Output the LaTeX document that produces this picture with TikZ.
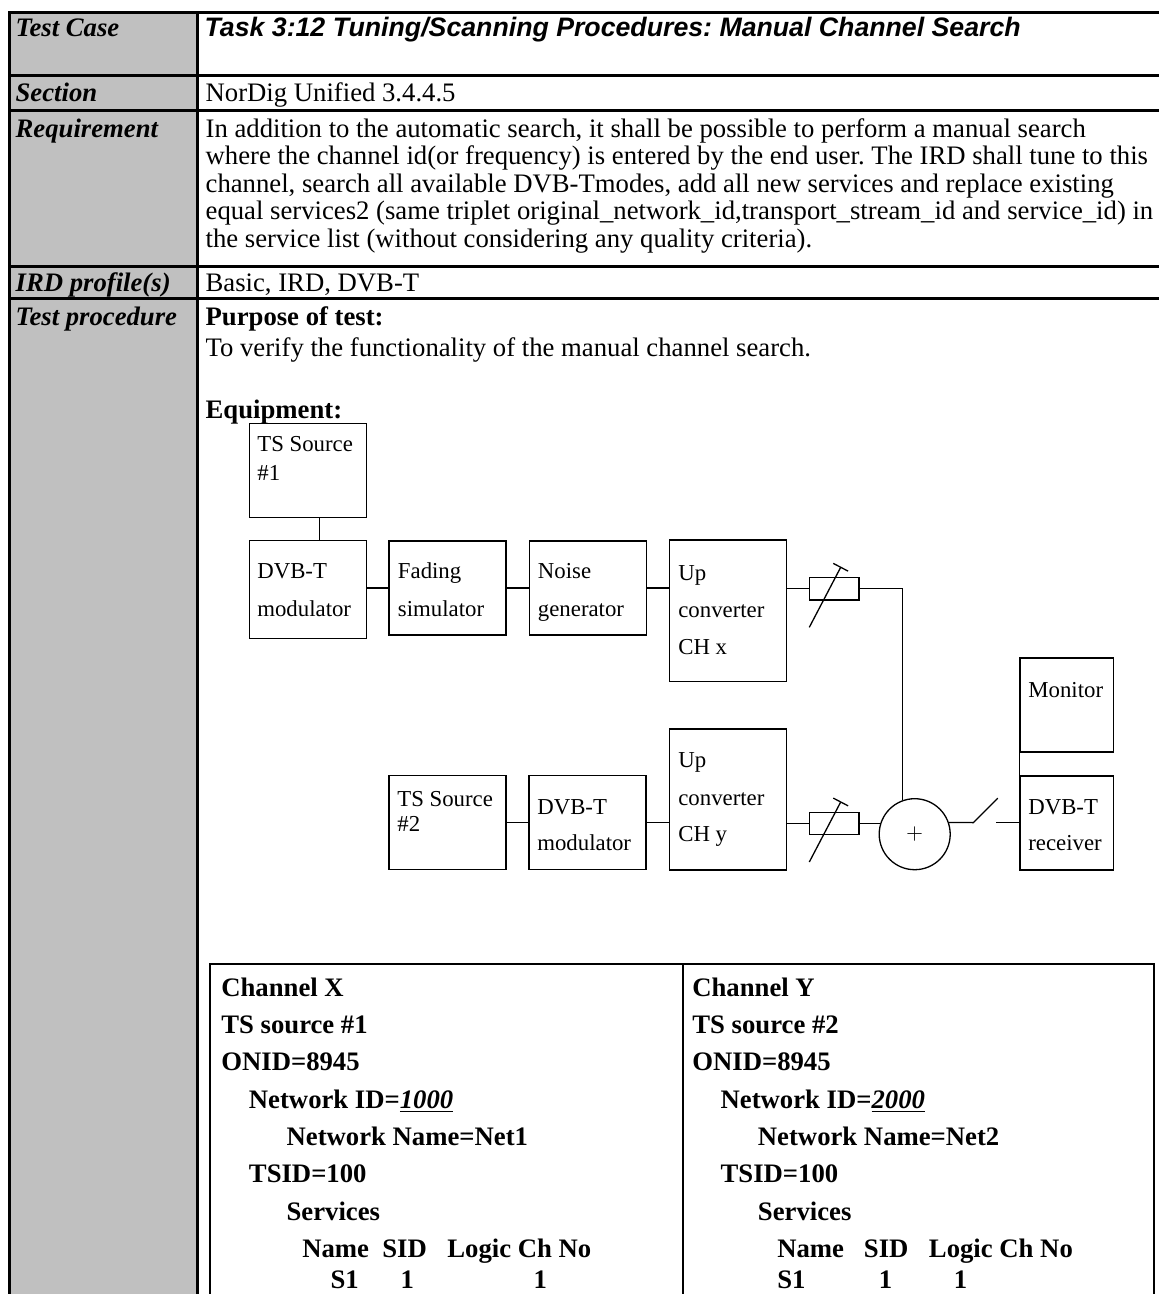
\documentclass[tikz,border=0pt]{standalone}
\usepackage{fontspec}
\setmainfont{Liberation Serif}
\newfontfamily\arialfont{Liberation Sans}
\usepackage{tikz}
\usetikzlibrary{arrows.meta}
\frenchspacing
\definecolor{cellgray}{HTML}{C0C0C0}
\newcommand{\txtsize}{\fontsize{13.35}{14}\selectfont}
\newcommand{\boxsize}{\fontsize{11.4}{12}\selectfont}
\tikzset{
	blk/.style     = {draw, rectangle, inner sep=0pt, minimum width=58.5pt,
		minimum height=47pt},
	atten/.style   = {draw, rectangle, inner sep=0pt, minimum width=24.85pt,
		minimum height=11.15pt},
	sum/.style     = {draw, circle, inner sep=0pt, minimum size=35.5pt, font=\boxsize},
	varr/.style    = {-{Bar[width=8.4pt]}},
	boxtxt/.style  = {anchor=base west, inner sep=0pt, font=\boxsize},
	txt/.style     = {anchor=base west, inner sep=0pt, font=\txtsize},
	head/.style    = {txt, font=\txtsize\bfseries\itshape},
	ent/.style     = {txt, font=\txtsize\bfseries},
	tabline/.style = {line width=1.5pt},
	lowline/.style = {line width=1pt}
}

\begin{document}
\begin{tikzpicture}[x=0.5pt, y=-0.5pt, line width=0.65pt]
	\useasboundingbox (0,0) rectangle (1159,1294);
	
	% the test case table
	\fill[cellgray] (9.5,12.5) rectangle (197.5,1294);
	\draw[tabline] (8,12.5) -- (1159,12.5);
	\draw[tabline] (8,76) -- (1159,76);
	\draw[tabline] (8,110.5) -- (1159,110.5);
	\draw[tabline] (8,266.3) -- (1159,266.3);
	\draw[tabline] (8,298.7) -- (1159,298.7);
	\draw[tabline] (9.5,11.75) -- (9.5,1294);
	\draw[tabline] (197.5,11.75) -- (197.5,1294);
	
	\node[head] at (15,37) {Test Case};
	\node[head] at (15,102) {Section};
	\node[head] at (15,137.5) {Requirement};
	\node[head] at (15,291.5) {IRD profile(s)};
	\node[head] at (15,325.5) {Test procedure};
	
	\node[txt, font=\txtsize\arialfont\bfseries\itshape] at (204,37)
		{Task 3:12 Tuning/Scanning Procedures: Manual Channel Search};
	\node[txt] at (205,102) {NorDig Unified 3.4.4.5};
	\node[txt] at (205,137.5) {In addition to the automatic search, it shall be possible to perform a manual search};
	\node[txt] at (205,165) {where the channel id(or frequency) is entered by the end user. The IRD shall tune to this};
	\node[txt] at (205,192.5) {channel, search all available DVB-Tmodes, add all new services and replace existing};
	\node[txt] at (205,220) {equal services2 (same triplet original\textunderscore network\textunderscore id,transport\textunderscore stream\textunderscore id and service\textunderscore id) in};
	\node[txt] at (205,247.5) {the service list (without considering any quality criteria).};
	\node[txt] at (205,291.5) {Basic, IRD, DVB-T};
	\node[ent] at (205,325.5) {Purpose of test:};
	\node[txt] at (205,356.5) {To verify the functionality of the manual channel search.};
	\node[ent] at (205,418.5) {Equipment:};
	
	% Drawing the equipment blocks
	\draw
	node at (307.7,470.3) [blk] (ts1) {}
	node at (307.7,589.7) [blk, minimum height=49pt] (moda) {}
	node at (447.4,587.9) [blk] (fade) {}
	node at (587.7,587.9) [blk] (noise) {}
	node at (728,610.9) [blk, minimum height=70.85pt] (upx) {}
	node at (834.2,588.8) [atten] (attx) {}
	node at (1066.9,704.9) [blk, minimum width=46.85pt] (mon) {}
	node at (447.5,822.5) [blk] (ts2) {}
	node at (587.5,822.5) [blk] (modb) {}
	node at (728,799.5) [blk, minimum height=70.5pt] (upy) {}
	node at (834.2,823.5) [atten] (atty) {}
	node at (914.7,834.2) [sum] (add) {$+$}
	node at (1066.9,822.9) [blk, minimum width=46.85pt] (rx) {};
	
	\coordinate (swa) at (973.3,822.6);
	\coordinate (swb) at (996,822.6);
	
	\draw ([xshift=5.8pt]ts1.south) -- ([xshift=5.8pt]moda.north);
	\draw (fade.west -| moda.east) -- (fade.west);
	\draw (fade.east) -- (noise.west);
	\draw (noise.east) -- (noise.east -| upx.west);
	\draw (attx.west -| upx.east) -- (attx.west);
	\draw (attx.east) -| (add.110);
	\draw[varr] ([shift={(-24.9,38.5)}]attx.center) -- ([shift={(6.8,-22.1)}]attx.center);
	\draw (ts2.east) -- (modb.west);
	\draw (modb.east) -- (modb.east -| upy.west);
	\draw (atty.west -| upy.east) -- (atty.west);
	\draw (atty.east) -- (atty.east -| add.161);
	\draw[varr] ([shift={(-24.9,38.5)}]atty.center) -- ([shift={(6.8,-22.1)}]atty.center);
	\draw (add.19) -- (swa) -- ++(24.4,-24.4);
	\draw (swb) -- (swb -| rx.west);
	\draw (mon.south west) -- (rx.north west);
	
	\node[boxtxt] at (256.7,451.7) {TS Source};
	\node[boxtxt] at (256.7,480) {\#1};
	\node[boxtxt] at (256.7,578.3) {DVB-T};
	\node[boxtxt] at (256.7,616.7) {modulator};
	\node[boxtxt] at (397.3,578.5) {Fading};
	\node[boxtxt] at (397.3,616.7) {simulator};
	\node[boxtxt] at (537.3,578.5) {Noise};
	\node[boxtxt] at (537.3,616.7) {generator};
	\node[boxtxt] at (677.7,580) {Up};
	\node[boxtxt] at (677.7,617.3) {converter};
	\node[boxtxt] at (677.7,654) {CH x};
	\node[boxtxt] at (1027.7,697.3) {Monitor};
	\node[boxtxt] at (396.7,806) {TS Source};
	\node[boxtxt] at (396.7,831.7) {\#2};
	\node[boxtxt] at (536.7,814) {DVB-T};
	\node[boxtxt] at (536.7,850.7) {modulator};
	\node[boxtxt] at (677.7,767.3) {Up};
	\node[boxtxt] at (677.7,805) {converter};
	\node[boxtxt] at (677.7,841.7) {CH y};
	\node[boxtxt] at (1027.7,814) {DVB-T};
	\node[boxtxt] at (1027.7,850.7) {receiver};
	
	% channel table
	\draw[lowline] (210,1294) -- (210,963.5) -- (1153.5,963.5) -- (1153.5,1294);
	\draw[lowline] (682.5,963.5) -- (682.5,1294);
	
	\node[ent] at (220.7,996.3) {Channel X};
	\node[ent] at (220.7,1033.6) {TS source \#1};
	\node[ent] at (220.7,1070.9) {ONID=8945};
	\node[ent] at (248.3,1108.2) {Network ID=\underline{\itshape 1000}};
	\node[ent] at (286,1145.5) {Network Name=Net1};
	\node[ent] at (248.3,1182.8) {TSID=100};
	\node[ent] at (286,1220.1) {Services};
	\node[ent] at (301.7,1257.4) {Name};
	\node[ent] at (381.7,1257.4) {SID};
	\node[ent] at (446.7,1257.4) {Logic Ch No};
	\node[ent] at (330,1288) {S1};
	\node[ent] at (400,1288) {1};
	\node[ent] at (533,1288) {1};
	
	\node[ent] at (691.7,996.3) {Channel Y};
	\node[ent] at (691.7,1033.6) {TS source \#2};
	\node[ent] at (691.7,1070.9) {ONID=8945};
	\node[ent] at (720,1108.2) {Network ID=\underline{\itshape 2000}};
	\node[ent] at (757.3,1145.5) {Network Name=Net2};
	\node[ent] at (720,1182.8) {TSID=100};
	\node[ent] at (757.3,1220.1) {Services};
	\node[ent] at (776.7,1257.4) {Name};
	\node[ent] at (863.3,1257.4) {SID};
	\node[ent] at (928.3,1257.4) {Logic Ch No};
	\node[ent] at (776.7,1288) {S1};
	\node[ent] at (878.3,1288) {1};
	\node[ent] at (953.3,1288) {1};
\end{tikzpicture}
\end{document}
